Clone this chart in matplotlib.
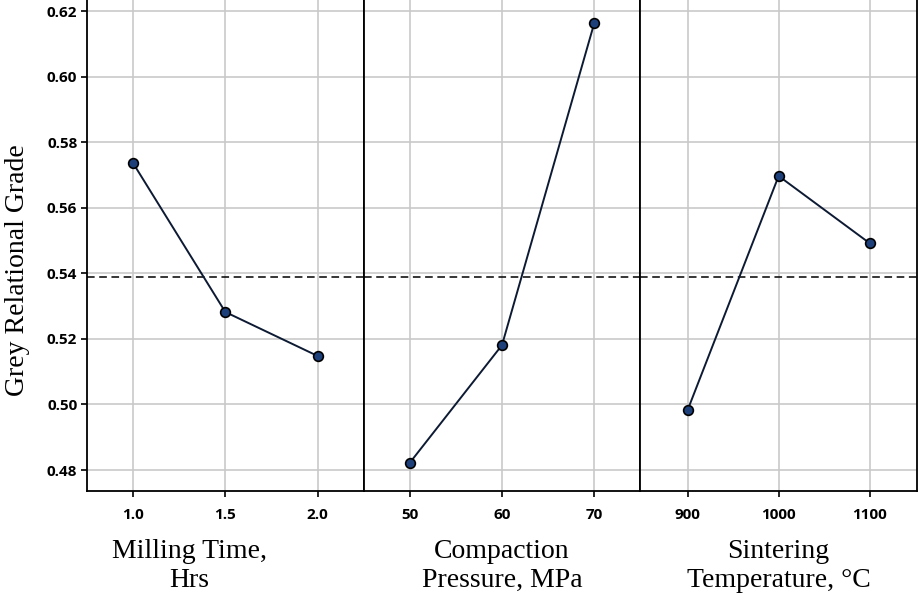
"""Main effects plot for Grey Relational Grade (three factors, shared y axis)."""

import matplotlib
matplotlib.use('Agg')
import matplotlib.pyplot as plt

# Factor levels and mean grey relational grade per level
milling_time = [1.0, 1.5, 2.0]
grg_milling = [0.5736, 0.5282, 0.5148]

compaction_pressure = [50, 60, 70]
grg_pressure = [0.4822, 0.5181, 0.6163]

sintering_temp = [900, 1000, 1100]
grg_temp = [0.4983, 0.5697, 0.5492]

grg_mean = 0.5389

y_ticks = [0.48, 0.50, 0.52, 0.54, 0.56, 0.58, 0.60, 0.62]
x_labels = ['Milling Time,\nHrs', 'Compaction\nPressure, MPa',
            'Sintering\nTemperature, \u00b0C']
# horizontal centre of each x label, in axes fraction (first one sits left)
label_centres = [0.37, 0.5, 0.5]

_SERIF = 'Liberation Serif'
_TICK_FONT = 'Open Sans'
_GRID = '#c9c9c9'
_MARKER = '#1d3f7a'


def _style_panel(ax, x, xlim, first):
    ax.set_xlim(*xlim)
    ax.set_ylim(0.4736, 0.6234)
    ax.set_xticks(x)
    ax.set_yticks(y_ticks)
    ax.grid(True, color=_GRID, linewidth=1.2)
    ax.set_axisbelow(True)
    for side in ('left', 'right', 'bottom', 'top'):
        ax.spines[side].set_color('black')
        ax.spines[side].set_linewidth(1.3)
    ax.spines['top'].set_visible(False)
    ax.tick_params(axis='x', direction='out', length=4, width=1.2, pad=8)
    if first:
        ax.tick_params(axis='y', direction='out', length=4, width=1.2, pad=3)
        ax.set_yticklabels([f'{v:.2f}' for v in y_ticks])
    else:
        ax.tick_params(axis='y', left=False, labelleft=False)
    for lab in ax.get_xticklabels() + ax.get_yticklabels():
        lab.set_fontfamily(_TICK_FONT)
        lab.set_fontweight('bold')
        lab.set_fontsize(11)


fig, axes = plt.subplots(1, 3, figsize=(9.2, 6), dpi=100, sharey=True)
fig.subplots_adjust(left=0.0946, right=0.9967, bottom=0.1817, top=1.0, wspace=0)

panels = [
    (milling_time, grg_milling, (0.75, 2.25)),
    (compaction_pressure, grg_pressure, (45, 75)),
    (sintering_temp, grg_temp, (848, 1152)),
]

for i, (ax, (x, y, xlim)) in enumerate(zip(axes, panels)):
    ax.axhline(grg_mean, color='black', linestyle=(0, (5, 3)), linewidth=1.1, zorder=2)
    ax.plot(x, y, color='#0d1a33', linewidth=1.4, zorder=3)
    ax.plot(x, y, linestyle='none', marker='o', markersize=7,
            markerfacecolor=_MARKER, markeredgecolor='black',
            markeredgewidth=1.2, zorder=4)
    _style_panel(ax, x, xlim, i == 0)
    ax.set_xlabel(x_labels[i], fontfamily=_SERIF, fontsize=20,
                  linespacing=1.2)
    ax.xaxis.set_label_coords(label_centres[i], -0.098, transform=ax.transAxes)
    ax.xaxis.label.set_verticalalignment('top')

axes[0].set_ylabel('Grey Relational Grade', fontfamily=_SERIF, fontsize=20)
axes[0].yaxis.set_label_coords(-0.25, 0.45, transform=axes[0].transAxes)
axes[0].yaxis.label.set_verticalalignment('center')

fig.savefig('out.png', dpi=100)
